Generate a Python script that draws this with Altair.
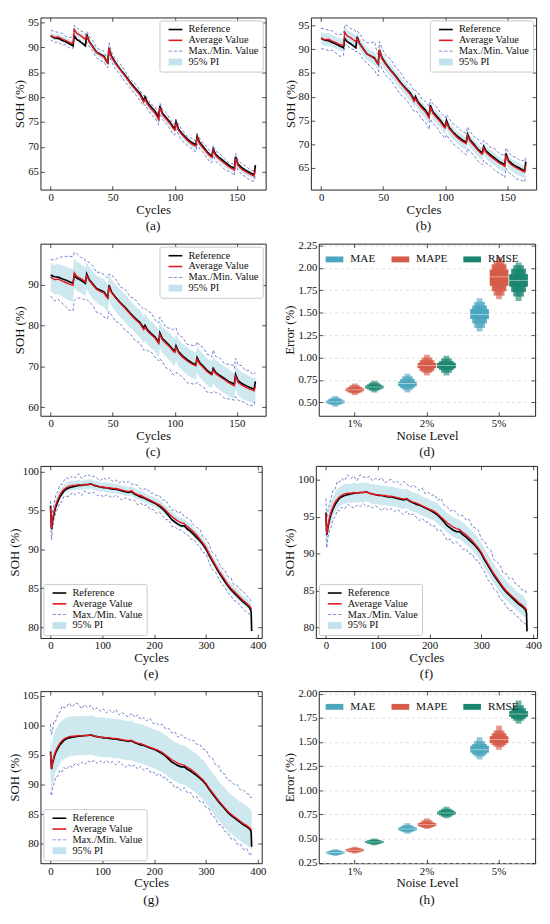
import altair as alt
import pandas as pd

FONT = "Liberation Serif"

# ---------------- data: dataset A (panels a, b, c) ----------------
A_CYCLES = [
    0, 3, 6, 9, 12, 15, 18, 19, 21, 24,
    27, 28, 29, 31, 34, 37, 40, 43, 45, 46,
    47, 49, 52, 56, 60, 64, 68, 72, 75, 76,
    78, 81, 84, 87, 88, 90, 93, 96, 99, 100,
    101, 103, 106, 110, 114, 117, 118, 120, 123, 126,
    129, 130, 131, 133, 136, 140, 144, 147, 148, 149,
    151, 154, 157, 160, 163, 164, 165]
A_REF = [
    92.3, 91.9, 91.8, 91.4, 91.1, 90.7, 90.3, 92.3, 91.6, 91.1,
    90.5, 90.3, 92.6, 91.2, 90.1, 89.0, 88.6, 88.2, 87.2, 86.9,
    89.8, 88.2, 87.0, 85.6, 84.4, 83.0, 81.8, 80.7, 79.3, 80.0,
    78.9, 78.0, 77.2, 75.9, 78.2, 76.8, 75.9, 75.0, 73.9, 73.7,
    75.0, 73.6, 72.6, 71.6, 70.8, 70.4, 72.1, 70.9, 70.0, 69.0,
    68.3, 68.2, 69.5, 68.5, 67.8, 67.0, 66.2, 65.8, 65.6, 68.0,
    66.5, 65.8, 65.3, 64.9, 64.5, 64.4, 66.3]
A_AVG_AB = [
    92.4, 92.0, 92.1, 91.7, 91.4, 91.0, 90.8, 93.6, 92.8, 92.4,
    91.8, 91.6, 92.3, 91.2, 90.0, 89.0, 88.5, 88.0, 87.2, 86.9,
    89.9, 88.0, 86.8, 85.5, 84.2, 82.8, 81.6, 80.4, 79.0, 79.6,
    78.6, 77.6, 76.8, 75.5, 77.9, 76.5, 75.6, 74.7, 73.6, 73.4,
    74.6, 73.3, 72.4, 71.3, 70.5, 70.1, 71.8, 70.6, 69.7, 68.8,
    68.0, 67.9, 69.2, 68.2, 67.5, 66.7, 65.9, 65.5, 65.3, 67.7,
    66.2, 65.5, 65.0, 64.6, 64.2, 64.1, 65.5]
A_AVG_C = [
    91.8, 91.2, 91.3, 90.9, 90.5, 90.1, 89.8, 92.9, 92.0, 91.5,
    90.9, 90.6, 92.2, 91.0, 89.9, 88.8, 88.3, 87.9, 87.0, 86.6,
    89.4, 88.0, 86.8, 85.4, 84.2, 82.8, 81.5, 80.4, 79.0, 79.6,
    78.6, 77.7, 76.9, 75.6, 77.8, 76.5, 75.6, 74.7, 73.6, 73.4,
    74.6, 73.3, 72.3, 71.3, 70.5, 70.1, 71.7, 70.6, 69.7, 68.7,
    68.0, 67.9, 69.1, 68.2, 67.5, 66.7, 65.9, 65.4, 65.2, 67.6,
    66.1, 65.4, 64.9, 64.5, 64.1, 64.0, 65.2]
# distance of the Max. line above / Min. line below the average, and 95% PI half width
A_UP_A = [
    1.0, 1.2, 0.9, 1.1, 0.8, 1.0, 1.2, 0.8, 1.1, 0.9,
    1.2, 1.0, 0.9, 1.1, 1.3, 0.9, 1.0, 1.2, 0.8, 1.0,
    1.0, 1.1, 0.9, 1.2, 1.0, 0.8, 1.1, 1.0, 1.2, 0.9,
    1.1, 0.9, 1.2, 1.0, 0.9, 1.1, 1.3, 0.9, 1.0, 1.2,
    0.9, 1.1, 1.0, 0.8, 1.2, 1.0, 0.9, 1.1, 1.0, 1.2,
    0.9, 1.0, 1.1, 0.9, 1.2, 1.0, 0.8, 1.1, 1.0, 0.9,
    1.1, 1.0, 1.2, 0.9, 1.0, 1.1, 1.0]
A_LO_A = [
    0.9, 1.1, 1.0, 1.2, 0.9, 1.1, 1.0, 1.2, 0.9, 1.0,
    1.1, 0.9, 1.2, 1.0, 0.8, 1.1, 1.2, 0.9, 1.1, 1.0,
    1.2, 0.9, 1.1, 1.0, 1.2, 0.9, 1.0, 1.1, 0.8, 1.1,
    1.0, 1.2, 0.9, 1.1, 1.2, 1.0, 0.9, 1.1, 1.2, 1.0,
    1.1, 0.9, 1.2, 1.0, 0.9, 1.1, 1.2, 1.0, 0.9, 1.1,
    1.2, 1.0, 0.9, 1.1, 1.0, 1.2, 0.9, 1.0, 1.1, 1.2,
    0.9, 1.1, 1.0, 1.2, 1.1, 1.0, 1.3]
A_PI_A = [
    0.6, 0.6, 0.65, 0.6, 0.55, 0.6, 0.65, 0.6, 0.6, 0.55,
    0.6, 0.6, 0.55, 0.6, 0.65, 0.6, 0.6, 0.65, 0.6, 0.6,
    0.55, 0.6, 0.6, 0.65, 0.6, 0.6, 0.55, 0.6, 0.6, 0.6,
    0.6, 0.65, 0.6, 0.6, 0.55, 0.6, 0.6, 0.65, 0.6, 0.6,
    0.55, 0.6, 0.6, 0.6, 0.65, 0.6, 0.55, 0.6, 0.6, 0.65,
    0.6, 0.6, 0.55, 0.6, 0.6, 0.65, 0.6, 0.6, 0.6, 0.55,
    0.6, 0.6, 0.65, 0.6, 0.6, 0.6, 0.55]
A_UP_B = [
    2.0, 2.3, 1.9, 2.2, 1.8, 2.1, 2.4, 1.6, 2.2, 1.9,
    2.3, 2.0, 1.5, 2.2, 1.9, 2.4, 2.8, 3.6, 2.1, 1.9,
    1.7, 2.2, 1.9, 2.4, 2.0, 2.3, 1.8, 2.2, 2.1, 1.8,
    2.3, 1.9, 2.2, 2.4, 1.6, 2.0, 2.3, 1.9, 2.2, 2.1,
    1.6, 2.2, 1.9, 2.3, 2.0, 2.2, 1.8, 2.1, 1.9, 2.3,
    2.0, 2.2, 1.6, 2.1, 1.9, 2.3, 2.0, 2.2, 2.1, 1.5,
    2.1, 1.9, 2.2, 2.0, 2.3, 2.1, 1.9]
A_LO_B = [
    2.3, 2.0, 2.4, 1.9, 2.2, 2.5, 2.1, 2.6, 2.0, 2.3,
    1.9, 2.2, 2.7, 2.0, 2.3, 1.9, 2.2, 2.4, 2.7, 2.5,
    2.6, 2.1, 2.3, 1.9, 2.2, 2.4, 2.0, 2.3, 2.1, 2.5,
    2.0, 2.3, 2.1, 2.4, 2.6, 2.2, 1.9, 2.3, 2.1, 2.2,
    2.6, 2.1, 2.3, 2.0, 2.2, 2.4, 2.7, 2.2, 2.0, 2.3,
    2.1, 2.3, 2.6, 2.2, 2.0, 2.3, 2.1, 2.2, 2.4, 2.8,
    2.2, 2.0, 2.3, 2.1, 2.0, 2.1, 2.3]
A_PI_B = [
    1.3, 1.3, 1.35, 1.3, 1.25, 1.3, 1.35, 1.3, 1.3, 1.25,
    1.3, 1.3, 1.25, 1.3, 1.35, 1.3, 1.35, 1.4, 1.3, 1.3,
    1.25, 1.3, 1.3, 1.35, 1.3, 1.3, 1.25, 1.3, 1.3, 1.3,
    1.3, 1.35, 1.3, 1.3, 1.25, 1.3, 1.3, 1.35, 1.3, 1.3,
    1.25, 1.3, 1.3, 1.3, 1.35, 1.3, 1.25, 1.3, 1.3, 1.35,
    1.3, 1.3, 1.25, 1.3, 1.3, 1.35, 1.3, 1.3, 1.3, 1.25,
    1.3, 1.3, 1.35, 1.3, 1.3, 1.3, 1.25]
A_UP_C = [
    4.3, 4.8, 5.2, 5.9, 6.4, 6.8, 7.0, 4.9, 5.6, 5.2,
    5.5, 5.2, 3.6, 4.4, 4.6, 4.2, 4.7, 4.5, 4.8, 5.1,
    3.2, 4.3, 4.8, 4.0, 4.7, 4.2, 4.9, 4.4, 5.0, 4.6,
    4.9, 5.4, 4.5, 5.0, 4.2, 4.4, 3.9, 4.6, 5.4, 5.8,
    4.8, 4.3, 4.9, 4.1, 4.6, 5.0, 4.3, 4.5, 4.9, 4.2,
    4.8, 4.4, 4.9, 4.2, 4.6, 4.0, 4.5, 4.9, 4.3, 4.4,
    4.2, 4.8, 4.0, 4.5, 3.8, 4.3, 3.2]
A_LO_C = [
    4.6, 5.2, 4.9, 5.4, 5.8, 6.4, 6.2, 6.8, 5.3, 4.8,
    4.6, 4.4, 5.8, 5.2, 5.0, 5.6, 5.3, 5.9, 5.2, 4.9,
    6.0, 5.4, 5.7, 5.0, 5.4, 4.8, 5.2, 4.7, 5.1, 5.5,
    4.8, 4.2, 4.6, 4.3, 5.9, 5.4, 6.0, 5.5, 5.7, 5.3,
    6.1, 5.2, 4.9, 5.3, 4.8, 4.4, 5.6, 5.1, 4.7, 5.0,
    4.5, 4.3, 5.2, 4.6, 4.2, 4.5, 3.9, 3.6, 3.5, 5.0,
    4.4, 4.0, 3.8, 4.2, 3.6, 3.5, 3.3]
A_PI_C = [
    3.5, 3.6, 3.7, 3.8, 3.9, 4.0, 4.0, 3.6, 3.6, 3.5,
    3.5, 3.5, 3.3, 3.4, 3.4, 3.3, 3.4, 3.4, 3.4, 3.4,
    3.2, 3.3, 3.3, 3.4, 3.4, 3.3, 3.3, 3.4, 3.3, 3.3,
    3.3, 3.3, 3.3, 3.3, 3.2, 3.3, 3.3, 3.4, 3.4, 3.4,
    3.2, 3.3, 3.3, 3.4, 3.3, 3.3, 3.2, 3.3, 3.3, 3.3,
    3.3, 3.3, 3.2, 3.3, 3.3, 3.3, 3.3, 3.2, 3.2, 3.1,
    3.2, 3.2, 3.2, 3.1, 3.1, 3.1, 3.0]

# ---------------- data: dataset B (panels e, f, g) ----------------
B_CYCLES = [
    0, 1, 2, 4, 7, 10, 14, 18, 22, 26,
    30, 36, 42, 48, 54, 60, 66, 72, 78, 84,
    90, 96, 102, 108, 114, 120, 126, 132, 138, 144,
    150, 156, 162, 168, 174, 180, 186, 192, 198, 204,
    210, 216, 222, 228, 234, 240, 246, 252, 258, 264,
    270, 276, 282, 288, 294, 300, 306, 312, 318, 324,
    330, 336, 342, 348, 354, 360, 366, 372, 378, 384,
    386, 387, 388]
B_REF = [
    95.6, 93.8, 92.6, 93.6, 94.6, 95.4, 96.1, 96.7, 97.1, 97.5,
    97.7, 97.9, 98.0, 98.1, 98.2, 98.2, 98.3, 98.3, 98.4, 98.2,
    98.1, 98.0, 97.9, 97.9, 97.8, 97.7, 97.7, 97.6, 97.5, 97.4,
    97.3, 97.4, 97.1, 96.9, 96.7, 96.6, 96.4, 96.2, 96.0, 95.8,
    95.5, 95.2, 94.8, 94.3, 93.8, 93.5, 93.2, 93.0, 93.0, 92.6,
    92.3, 91.9, 91.5, 91.1, 90.6, 90.0, 89.2, 88.5, 87.8, 87.1,
    86.5, 85.9, 85.3, 84.8, 84.4, 84.0, 83.6, 83.2, 82.9, 82.5,
    82.2, 82.0, 79.5]
B_AVG = [
    95.4, 93.6, 92.7, 93.8, 94.9, 95.7, 96.4, 97.0, 97.4, 97.7,
    97.9, 98.1, 98.2, 98.2, 98.3, 98.2, 98.3, 98.3, 98.4, 98.2,
    98.1, 98.0, 98.0, 97.9, 97.9, 97.8, 97.8, 97.7, 97.6, 97.5,
    97.4, 97.5, 97.2, 97.0, 96.9, 96.7, 96.5, 96.3, 96.1, 95.9,
    95.7, 95.4, 95.0, 94.6, 94.2, 93.9, 93.6, 93.4, 93.3, 92.9,
    92.6, 92.2, 91.8, 91.3, 90.8, 90.2, 89.4, 88.7, 88.0, 87.3,
    86.7, 86.1, 85.5, 85.0, 84.6, 84.2, 83.8, 83.4, 83.1, 82.7,
    82.5, 82.4, 82.3]
E_UP = [
    0.8, 1.2, 1.5, 1.1, 0.9, 1.2, 1.0, 1.3, 0.9, 1.1,
    1.3, 0.9, 1.2, 1.0, 1.4, 0.9, 1.1, 1.3, 0.9, 1.2,
    1.0, 0.8, 1.2, 1.0, 1.3, 0.9, 1.1, 0.8, 1.2, 1.0,
    1.3, 0.9, 1.1, 1.2, 0.8, 1.0, 1.3, 0.9, 1.1, 1.0,
    1.2, 0.9, 1.3, 1.1, 0.8, 1.2, 1.0, 1.4, 0.9, 1.1,
    1.2, 0.9, 1.0, 1.3, 0.8, 1.1, 1.2, 0.9, 1.3, 1.0,
    0.9, 1.2, 1.0, 1.3, 0.8, 1.1, 1.0, 1.2, 0.9, 1.0,
    0.9, 0.9, 0.9]
E_LO = [
    1.0, 1.4, 1.5, 1.2, 1.0, 0.9, 1.2, 1.0, 1.3, 0.9,
    1.1, 1.3, 0.9, 1.2, 1.0, 1.3, 0.8, 1.1, 1.2, 0.9,
    1.2, 1.0, 1.3, 0.9, 1.1, 1.2, 0.8, 1.1, 1.3, 0.9,
    1.0, 1.2, 0.9, 1.3, 1.0, 1.1, 0.8, 1.2, 1.0, 1.3,
    0.9, 1.1, 1.2, 0.8, 1.3, 1.0, 1.1, 0.9, 1.2, 1.0,
    1.3, 0.9, 1.1, 1.0, 1.2, 0.8, 1.1, 1.3, 0.9, 1.0,
    1.2, 0.9, 1.1, 1.0, 1.2, 0.9, 1.1, 1.0, 1.2, 1.0,
    1.1, 1.0, 0.9]
E_PI = [
    0.8, 0.8, 0.8, 0.7, 0.7, 0.7, 0.65, 0.65, 0.6, 0.6,
    0.6, 0.65, 0.6, 0.6, 0.65, 0.6, 0.6, 0.65, 0.6, 0.6,
    0.65, 0.6, 0.6, 0.65, 0.6, 0.6, 0.65, 0.6, 0.6, 0.65,
    0.6, 0.6, 0.65, 0.6, 0.6, 0.65, 0.6, 0.6, 0.65, 0.6,
    0.6, 0.65, 0.6, 0.6, 0.65, 0.6, 0.6, 0.65, 0.6, 0.6,
    0.65, 0.6, 0.6, 0.65, 0.6, 0.6, 0.65, 0.6, 0.6, 0.65,
    0.6, 0.6, 0.65, 0.6, 0.6, 0.65, 0.6, 0.6, 0.65, 0.6,
    0.6, 0.6, 0.6]
F_UP = [
    2.1, 2.4, 2.2, 2.0, 1.8, 1.9, 2.2, 1.8, 2.4, 2.0,
    2.3, 1.8, 2.5, 2.0, 2.2, 1.7, 2.4, 2.1, 1.9, 2.3,
    1.8, 2.2, 2.0, 2.4, 1.7, 2.1, 2.3, 1.9, 2.2, 1.8,
    2.4, 2.0, 1.8, 2.3, 2.1, 1.9, 2.4, 1.8, 2.2, 2.0,
    2.3, 1.8, 2.5, 2.0, 2.2, 1.9, 2.4, 2.1, 1.8, 2.3,
    2.0, 2.5, 1.9, 2.2, 2.4, 1.8, 2.3, 2.1, 2.5, 1.9,
    2.2, 2.4, 1.9, 2.3, 2.0, 2.5, 2.1, 2.3, 2.0, 2.4,
    2.3, 2.2, 2.2]
F_LO = [
    2.0, 2.4, 1.9, 1.6, 1.8, 2.1, 1.7, 2.0, 1.5, 1.9,
    1.6, 2.0, 1.5, 1.8, 2.1, 1.6, 1.9, 1.5, 2.0, 1.7,
    1.9, 1.5, 1.8, 2.1, 1.6, 1.9, 1.7, 2.0, 1.6, 1.8,
    2.1, 1.7, 2.0, 1.6, 1.9, 2.2, 1.7, 2.0, 1.8, 2.2,
    1.9, 2.3, 1.8, 2.1, 2.4, 1.9, 2.2, 1.8, 2.1, 2.3,
    1.9, 2.2, 1.8, 2.1, 1.7, 2.0, 1.8, 2.2, 1.9, 2.1,
    1.8, 2.2, 1.9, 2.1, 2.3, 1.9, 2.2, 2.0, 2.3, 2.1,
    2.2, 2.3, 2.2]
F_PI = [
    1.6, 1.6, 1.55, 1.5, 1.45, 1.4, 1.4, 1.35, 1.35, 1.3,
    1.3, 1.35, 1.3, 1.3, 1.35, 1.3, 1.3, 1.35, 1.3, 1.3,
    1.35, 1.3, 1.3, 1.35, 1.3, 1.3, 1.35, 1.3, 1.3, 1.35,
    1.3, 1.3, 1.35, 1.3, 1.3, 1.35, 1.3, 1.3, 1.35, 1.3,
    1.3, 1.35, 1.3, 1.3, 1.35, 1.3, 1.3, 1.35, 1.3, 1.3,
    1.35, 1.3, 1.3, 1.35, 1.3, 1.3, 1.35, 1.3, 1.3, 1.35,
    1.3, 1.3, 1.35, 1.3, 1.3, 1.35, 1.3, 1.3, 1.35, 1.3,
    1.3, 1.3, 1.3]
G_UP = [
    4.8, 5.2, 5.8, 5.4, 5.9, 5.0, 5.6, 5.2, 5.9, 5.3,
    5.1, 5.7, 4.9, 5.6, 5.3, 4.6, 5.2, 4.7, 5.0, 4.4,
    4.9, 4.4, 4.8, 4.2, 4.7, 4.3, 4.9, 4.1, 4.6, 4.3,
    4.0, 4.6, 4.2, 4.8, 4.1, 4.6, 4.3, 4.9, 4.2, 4.5,
    4.3, 4.8, 4.4, 4.9, 4.5, 5.0, 4.4, 5.1, 4.6, 5.0,
    4.8, 5.3, 5.0, 5.5, 5.2, 5.7, 5.3, 5.8, 5.4, 5.9,
    5.3, 5.7, 5.2, 5.6, 5.4, 5.8, 5.3, 5.7, 5.4, 5.6,
    5.3, 5.5, 5.3]
G_LO = [
    7.0, 5.0, 4.6, 4.2, 4.8, 4.4, 5.0, 4.6, 5.3, 4.8,
    5.4, 4.9, 5.3, 4.6, 5.0, 4.4, 4.9, 4.3, 4.7, 4.1,
    4.5, 4.0, 4.4, 3.8, 4.3, 3.9, 4.5, 3.8, 4.2, 4.6,
    4.0, 4.5, 3.9, 4.4, 3.8, 4.3, 3.7, 4.2, 3.9, 4.4,
    3.8, 4.3, 3.7, 4.2, 3.9, 4.5, 4.0, 4.4, 3.8, 4.3,
    3.9, 4.4, 3.8, 4.2, 3.6, 4.1, 3.5, 4.0, 3.6, 4.1,
    3.5, 4.0, 3.6, 4.2, 3.7, 4.3, 3.8, 4.4, 3.9, 4.5,
    4.0, 4.3, 4.1]
G_PI = [
    4.2, 4.0, 3.9, 3.8, 3.7, 3.6, 3.5, 3.5, 3.4, 3.4,
    3.4, 3.35, 3.3, 3.35, 3.3, 3.3, 3.35, 3.3, 3.3, 3.35,
    3.3, 3.3, 3.35, 3.3, 3.3, 3.35, 3.3, 3.3, 3.35, 3.3,
    3.3, 3.35, 3.3, 3.3, 3.35, 3.3, 3.3, 3.35, 3.3, 3.3,
    3.35, 3.3, 3.3, 3.35, 3.3, 3.3, 3.35, 3.3, 3.3, 3.35,
    3.3, 3.3, 3.35, 3.3, 3.3, 3.35, 3.3, 3.3, 3.35, 3.3,
    3.3, 3.35, 3.3, 3.3, 3.35, 3.3, 3.3, 3.35, 3.3, 3.3,
    3.3, 3.3, 3.3]

# ---------------- data: error distributions (panels d, h) ----------------
NOISE = ["1%", "2%", "5%"]
METRICS = ["MAE", "MAPE", "RMSE"]
# per noise level: median, then (low, high) of each letter-value box, inner -> outer
D_MAE = [[0.505, 0.49, 0.52, 0.48, 0.535, 0.47, 0.55, 0.45, 0.57],
         [0.71, 0.68, 0.73, 0.66, 0.76, 0.64, 0.79, 0.61, 0.82],
         [1.48, 1.43, 1.54, 1.38, 1.58, 1.33, 1.62, 1.29, 1.66]]
D_MAPE = [[0.64, 0.625, 0.655, 0.61, 0.67, 0.60, 0.69, 0.58, 0.71],
          [0.91, 0.88, 0.94, 0.85, 0.97, 0.83, 1.00, 0.80, 1.03],
          [1.90, 1.80, 1.98, 1.74, 2.04, 1.69, 2.08, 1.65, 2.12]]
D_RMSE = [[0.67, 0.655, 0.685, 0.645, 0.70, 0.63, 0.72, 0.61, 0.74],
          [0.91, 0.88, 0.94, 0.86, 0.96, 0.83, 0.99, 0.80, 1.02],
          [1.86, 1.79, 1.93, 1.73, 1.99, 1.68, 2.03, 1.63, 2.06]]
H_MAE = [[0.355, 0.345, 0.365, 0.337, 0.373, 0.33, 0.38, 0.32, 0.39],
         [0.60, 0.585, 0.615, 0.575, 0.625, 0.565, 0.64, 0.55, 0.66],
         [1.42, 1.39, 1.46, 1.37, 1.48, 1.35, 1.51, 1.32, 1.55]]
H_MAPE = [[0.38, 0.37, 0.39, 0.362, 0.398, 0.355, 0.405, 0.345, 0.415],
          [0.645, 0.63, 0.66, 0.62, 0.67, 0.61, 0.69, 0.60, 0.71],
          [1.525, 1.49, 1.56, 1.47, 1.59, 1.45, 1.62, 1.42, 1.67]]
H_RMSE = [[0.465, 0.455, 0.475, 0.447, 0.483, 0.44, 0.49, 0.43, 0.50],
          [0.765, 0.75, 0.78, 0.74, 0.795, 0.725, 0.81, 0.71, 0.83],
          [1.79, 1.76, 1.82, 1.74, 1.85, 1.72, 1.88, 1.69, 1.93]]

# ---------------- styles ----------------
SERIES = ["Reference", "Average Value", "Max./Min. Value", "95% PI"]
SERIES_COLORS = ["#000000", "#e3191f", "#6673c6", "#c2e3ee"]
# legend key glyphs (line, line, dashed line, filled patch)
KEY_SHAPES = ["M0,-0.23H4V0.23H0Z",
              "M0,-0.23H4V0.23H0Z",
              "M0,-0.13H1V0.13H0Z M1.5,-0.13H2.5V0.13H1.5Z M3,-0.13H4V0.13H3Z",
              "M0,-1H4V1H0Z"]
PI_FILL = "#add8e6"
BOX_COLORS = ["#4da6bf", "#d65a48", "#1a8670"]
LEVEL_W = [19, 15, 11, 6]
LEVEL_OP = [1.0, 0.88, 0.76, 0.62]


def soh_panel(cycles, ref, avg, up, lo, pi, xdom, xvals, ydom, yvals, label, orient, w, h):
    n = len(cycles)
    pi_df = pd.DataFrame({"cycle": cycles,
                          "lo": [a - p for a, p in zip(avg, pi)],
                          "hi": [a + p for a, p in zip(avg, pi)]})
    mm_df = pd.DataFrame({"cycle": list(cycles) * 2,
                          "val": [a + u for a, u in zip(avg, up)] + [a - l for a, l in zip(avg, lo)],
                          "part": ["max"] * n + ["min"] * n})
    ref_df = pd.DataFrame({"cycle": cycles, "val": ref})
    avg_df = pd.DataFrame({"cycle": cycles, "val": avg})
    xs = alt.Scale(domain=xdom, nice=False, zero=False)
    ys = alt.Scale(domain=ydom, nice=False, zero=False)
    xax = alt.Axis(values=xvals, title="Cycles")
    yax = alt.Axis(values=yvals, title="SOH (%)")
    x0 = alt.X("cycle:Q", scale=xs, axis=None)
    y0 = alt.Y("val:Q", scale=ys, axis=None)
    cscale = alt.Scale(domain=SERIES, range=SERIES_COLORS)
    leg = alt.Legend(title=None, orient=orient, symbolSize=49, symbolStrokeWidth=0,
                     labelOffset=15, labelFontSize=10.5, labelFont=FONT, labelColor="#111",
                     padding=4, rowPadding=0, offset=3, strokeColor="#c8c8c8",
                     fillColor="rgba(255,255,255,0.85)", cornerRadius=2)

    area = alt.Chart(pi_df).mark_area(color=PI_FILL, opacity=0.6, clip=True).encode(
        x=alt.X("cycle:Q", scale=xs, axis=xax), y=alt.Y("lo:Q", scale=ys, axis=yax), y2="hi:Q")
    mm = alt.Chart(mm_df).mark_line(color=SERIES_COLORS[2], strokeWidth=0.9, strokeDash=[3, 2],
                                    clip=True).encode(x=x0, y=y0, detail="part:N")
    refl = alt.Chart(ref_df).mark_line(color=SERIES_COLORS[0], strokeWidth=1.7, clip=True).encode(
        x=x0, y=y0)
    avgl = alt.Chart(avg_df).mark_line(color=SERIES_COLORS[1], strokeWidth=1.4, clip=True).encode(
        x=x0, y=y0)
    key = alt.Chart(alt.Data(values=[])).mark_point(filled=True, opacity=1, clip=True).encode(
        x=alt.X("cycle:Q", scale=xs, axis=alt.Axis(orient="top", labels=False, title=None, values=xvals)),
        y=alt.Y("val:Q", scale=ys, axis=alt.Axis(orient="right", labels=False, title=None, values=yvals)),
        color=alt.Color("series:N", scale=cscale, legend=leg),
        shape=alt.Shape("series:N", scale=alt.Scale(domain=SERIES, range=KEY_SHAPES), legend=leg))
    return alt.layer(area, mm, refl, avgl, key).resolve_axis(x="independent", y="independent").properties(
        width=w, height=h, title=alt.TitleParams(label, orient="bottom"))


def boxen_panel(mae, mape, rmse, ydom, yvals, label, w, h):
    rows, meds = [], []
    for metric, arr in zip(METRICS, [mae, mape, rmse]):
        for i, noise in enumerate(NOISE):
            rec = arr[i]
            meds.append({"noise": noise, "metric": metric, "med": rec[0]})
            for k in range(4):
                rows.append({"noise": noise, "metric": metric, "k": k,
                             "lo": rec[1 + 2 * k], "hi": rec[2 + 2 * k],
                             "w": LEVEL_W[k], "op": LEVEL_OP[k]})
    df = pd.DataFrame(rows).sort_values("k", ascending=False)
    med_df = pd.DataFrame(meds)
    xsc = alt.Scale(type="band", domain=NOISE, paddingInner=0, paddingOuter=0)
    x = alt.X("noise:N", scale=xsc, axis=alt.Axis(title="Noise Level", labelAngle=0))
    xo = alt.XOffset("metric:N", scale=alt.Scale(domain=METRICS, paddingInner=0, paddingOuter=0.35))
    ys = alt.Scale(domain=ydom, nice=False, zero=False)
    yax = alt.Axis(values=yvals, format=".2f", title="Error (%)", grid=True,
                   gridDash=[3, 3], gridColor="#d9d9d9", gridWidth=0.8)
    leg = alt.Legend(title=None, orient="top-left", direction="horizontal", symbolType="stroke",
                     symbolStrokeWidth=6, symbolSize=324, labelFontSize=11.5, labelFont=FONT,
                     labelColor="#111", columnPadding=4, gridAlign="none", offset=4, labelOffset=4)
    rules = alt.Chart(df).mark_rule(strokeCap="butt").encode(
        x=x, xOffset=xo, y=alt.Y("lo:Q", scale=ys, axis=yax), y2="hi:Q",
        color=alt.Color("metric:N", scale=alt.Scale(domain=METRICS, range=BOX_COLORS), legend=leg),
        strokeWidth=alt.StrokeWidth("w:Q", scale=None),
        opacity=alt.Opacity("op:Q", scale=None))
    med = alt.Chart(med_df).mark_tick(thickness=1, color="#ffffff", opacity=0.45).encode(
        x=alt.X("noise:N", scale=xsc, axis=alt.Axis(orient="top", labels=False, title=None)),
        xOffset=xo,
        y=alt.Y("med:Q", scale=ys, axis=alt.Axis(orient="right", labels=False, title=None,
                                                   values=yvals, grid=False)),
        size=alt.value(19))
    return alt.layer(rules, med).resolve_axis(x="independent", y="independent").properties(
        width=w, height=h, title=alt.TitleParams(label, orient="bottom"))


AX = [-8.25, 173.25]
AXV = [0, 50, 100, 150]
BX = [-19.4, 407.4]
BXV = [0, 100, 200, 300, 400]
H = 175
pa = soh_panel(A_CYCLES, A_REF, A_AVG_AB, A_UP_A, A_LO_A, A_PI_A, AX, AXV,
               [61.4, 96.0], [65, 70, 75, 80, 85, 90, 95], "(a)", "top-right", 229, H)
pb = soh_panel(A_CYCLES, A_REF, A_AVG_AB, A_UP_B, A_LO_B, A_PI_B, AX, AXV,
               [60.4, 96.7], [65, 70, 75, 80, 85, 90, 95], "(b)", "top-right", 229, H)
pc = soh_panel(A_CYCLES, A_REF, A_AVG_C, A_UP_C, A_LO_C, A_PI_C, AX, AXV,
               [57.9, 100.0], [60, 70, 80, 90], "(c)", "top-right", 229, H)
pd_ = boxen_panel(D_MAE, D_MAPE, D_RMSE, [0.35, 2.27],
                  [0.5, 0.75, 1.0, 1.25, 1.5, 1.75, 2.0, 2.25], "(d)", 220, H)
pe = soh_panel(B_CYCLES, B_REF, B_AVG, E_UP, E_LO, E_PI, BX, BXV,
               [78.6, 100.7], [80, 85, 90, 95, 100], "(e)", "bottom-left", 225, H)
pf = soh_panel(B_CYCLES, B_REF, B_AVG, F_UP, F_LO, F_PI, BX, BXV,
               [78.6, 101.9], [80, 85, 90, 95, 100], "(f)", "bottom-left", 225, H)
pg = soh_panel(B_CYCLES, B_REF, B_AVG, G_UP, G_LO, G_PI, BX, BXV,
               [76.7, 105.8], [80, 85, 90, 95, 100, 105], "(g)", "bottom-left", 225, H)
ph = boxen_panel(H_MAE, H_MAPE, H_RMSE, [0.245, 2.027],
                 [0.25, 0.5, 0.75, 1.0, 1.25, 1.5, 1.75, 2.0], "(h)", 220, H)


def row(l, r):
    return alt.hconcat(l, r, spacing=17).resolve_scale(
        color="independent", shape="independent").resolve_legend(
        color="independent", shape="independent")


chart = alt.vconcat(row(pa, pb), row(pc, pd_), row(pe, pf), row(pg, ph), spacing=6)
chart = chart.resolve_scale(color="independent", shape="independent").resolve_legend(
    color="independent", shape="independent")
chart = chart.properties(padding=0).configure(font=FONT).configure_view(
    stroke="#222", strokeWidth=1).configure_axis(
    labelFont=FONT, titleFont=FONT, labelFontSize=11, titleFontSize=13,
    titleFontWeight="normal", labelColor="#111", titleColor="#111", domain=False,
    tickColor="#222", tickSize=4, tickWidth=0.8, offset=-4, labelPadding=2,
    titlePadding=1, grid=False).configure_legend(
    labelFont=FONT, labelColor="#111").configure_title(
    font=FONT, fontSize=13.5, fontWeight="normal", color="#111", offset=3)

chart.save("out.html", embed_options={"renderer": "svg", "actions": False})
